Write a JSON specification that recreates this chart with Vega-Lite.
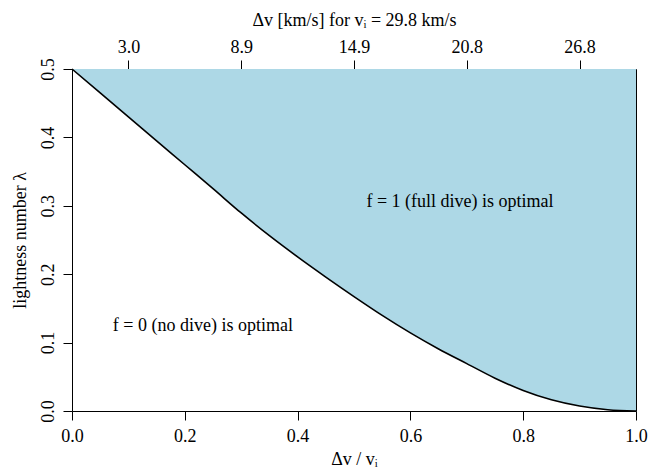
{
  "$schema": "https://vega.github.io/schema/vega-lite/v6.json",
  "autosize": {"type": "none"},
  "width": 564,
  "height": 342,
  "padding": {"left": 72, "top": 69, "right": 13, "bottom": 59},
  "background": "white",
  "config": {
    "font": "Liberation Serif",
    "view": {"stroke": "black", "strokeWidth": 1},
    "axis": {
      "labelFont": "Liberation Serif",
      "titleFont": "Liberation Serif",
      "labelFontSize": 18,
      "titleFontSize": 18,
      "titleFontWeight": "normal",
      "labelColor": "black",
      "titleColor": "black",
      "tickColor": "black",
      "tickSize": 9,
      "tickWidth": 1,
      "labelFlush": false,
      "labelOverlap": false,
      "domain": false,
      "grid": false
    }
  },
  "datasets": {
    "curve": [
      {"x": 0.0, "lam": 0.5},
      {"x": 0.05, "lam": 0.465},
      {"x": 0.1, "lam": 0.43},
      {"x": 0.15, "lam": 0.395},
      {"x": 0.2, "lam": 0.36},
      {"x": 0.25, "lam": 0.325},
      {"x": 0.3, "lam": 0.2895},
      {"x": 0.35, "lam": 0.2563},
      {"x": 0.4, "lam": 0.2253},
      {"x": 0.45, "lam": 0.1958},
      {"x": 0.5, "lam": 0.1673},
      {"x": 0.55, "lam": 0.1398},
      {"x": 0.6, "lam": 0.1142},
      {"x": 0.65, "lam": 0.0907},
      {"x": 0.7, "lam": 0.0693},
      {"x": 0.75, "lam": 0.048},
      {"x": 0.8, "lam": 0.03},
      {"x": 0.85, "lam": 0.0163},
      {"x": 0.9, "lam": 0.0072},
      {"x": 0.95, "lam": 0.0018},
      {"x": 1.0, "lam": 0.0}
    ],
    "labels": [
      {"x": 0.232, "lam": 0.124, "label": "f = 0 (no dive) is optimal"},
      {"x": 0.688, "lam": 0.305, "label": "f = 1 (full dive) is optimal"}
    ]
  },
  "layer": [
    {
      "data": {"name": "curve"},
      "mark": {"type": "area", "interpolate": "monotone", "color": "#ADD8E6", "opacity": 1},
      "encoding": {
        "x": {
          "field": "x", "type": "quantitative",
          "scale": {"domain": [0, 1], "nice": false, "zero": false},
          "axis": {
            "orient": "bottom",
            "values": [0, 0.2, 0.4, 0.6, 0.8, 1],
            "format": ".1f",
            "labelPadding": 7,
            "title": "Δv / vᵢ",
            "titlePadding": 5
          }
        },
        "y": {"field": "lam", "type": "quantitative", "scale": {"domain": [0, 0.5], "nice": false, "zero": false}},
        "y2": {"datum": 0.5}
      }
    },
    {
      "data": {"name": "curve"},
      "mark": {"type": "line", "interpolate": "monotone", "color": "black", "strokeWidth": 1.6},
      "encoding": {
        "x": {"field": "x", "type": "quantitative", "axis": null},
        "y": {
          "field": "lam", "type": "quantitative",
          "axis": {
            "orient": "left",
            "values": [0, 0.1, 0.2, 0.3, 0.4, 0.5],
            "format": ".1f",
            "ticks": true,
            "tickSize": 9,
            "tickColor": "black",
            "tickWidth": 1,
            "labelAngle": 270,
            "labelPadding": 6,
            "title": "lightness number  λ",
            "titlePadding": 10
          }
        }
      }
    },
    {
      "data": {"name": "labels"},
      "mark": {"type": "text", "font": "Liberation Serif", "fontSize": 18, "color": "black", "align": "center", "baseline": "middle"},
      "encoding": {
        "x": {
          "field": "x", "type": "quantitative",
          "axis": {
            "orient": "top",
            "values": [0.1, 0.3, 0.5, 0.7, 0.9],
            "labelExpr": "round(datum.value*10)==1 ? '3.0' : round(datum.value*10)==3 ? '8.9' : round(datum.value*10)==5 ? '14.9' : round(datum.value*10)==7 ? '20.8' : '26.8'",
            "labelPadding": 4,
            "title": "Δv [km/s] for vᵢ = 29.8 km/s",
            "titlePadding": 9
          }
        },
        "y": {"field": "lam", "type": "quantitative"},
        "text": {"field": "label"}
      }
    }
  ],
  "resolve": {"axis": {"x": "independent"}}
}
